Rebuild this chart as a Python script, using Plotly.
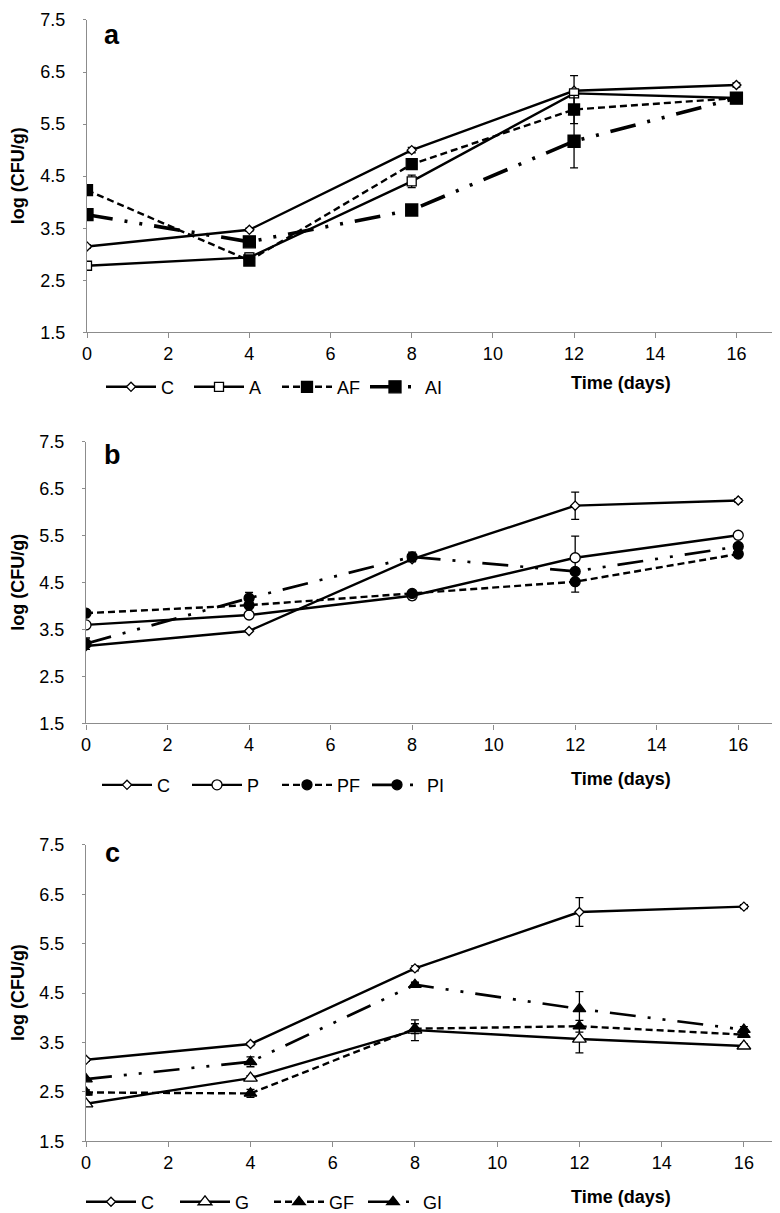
import plotly.graph_objects as go

# sampling days
days = [0, 4, 8, 12, 16]

# control (same in all three panels)
c_log = [3.15, 3.47, 5.00, 6.14, 6.25]
c_err = [0.03, 0.03, 0.05, 0.29, 0.04]

# panel a
a_log = [2.78, 2.94, 4.40, 6.09, 6.00]
a_err = [0.03, 0.08, 0.12, 0.05, 0.03]
af_log = [4.23, 2.88, 4.73, 5.78, 6.00]
af_err = [0.03, 0.04, 0.05, 0.27, 0.03]
ai_log = [3.76, 3.24, 3.85, 5.17, 6.00]
ai_err = [0.03, 0.04, 0.04, 0.51, 0.03]

# panel b
p_log = [3.60, 3.81, 4.22, 5.03, 5.51]
p_err = [0.03, 0.04, 0.08, 0.46, 0.04]
pf_log = [3.85, 4.02, 4.27, 4.52, 5.11]
pf_err = [0.03, 0.05, 0.05, 0.22, 0.03]
pi_log = [3.20, 4.17, 5.05, 4.74, 5.27]
pi_err = [0.12, 0.12, 0.10, 0.05, 0.04]

# panel c
g_log = [2.26, 2.78, 3.75, 3.57, 3.43]
g_err = [0.04, 0.05, 0.21, 0.28, 0.04]
gf_log = [2.49, 2.47, 3.78, 3.83, 3.66]
gf_err = [0.05, 0.08, 0.10, 0.12, 0.04]
gi_log = [2.76, 3.11, 4.67, 4.18, 3.76]
gi_err = [0.03, 0.10, 0.05, 0.35, 0.06]

y_ticks = [1.5, 2.5, 3.5, 4.5, 5.5, 6.5, 7.5]
x_ticks = [0, 2, 4, 6, 8, 10, 12, 14, 16]

FONT = "Arial, Liberation Sans, sans-serif"
W, H = 780, 1213
SHORT = "7px,4px"
LONG_DD = "26px,12px,3px,12px,3px,12px"

fig = go.Figure()


def add_series(panel, name, y, err, dash, width, symbol, size, filled):
    sfx = "" if panel == 1 else str(panel)
    fig.add_trace(go.Scatter(
        x=days, y=y, name=name, mode="lines+markers",
        xaxis="x" + sfx, yaxis="y" + sfx, legend="legend" + sfx,
        line=dict(color="black", width=width, dash=dash),
        marker=dict(symbol=symbol, size=size,
                    color="black" if filled else "white",
                    line=dict(color="black", width=1.3)),
        error_y=dict(type="data", array=err, color="black", thickness=1.3, width=4),
    ))


# a
add_series(1, "C", c_log, c_err, "solid", 2.4, "diamond", 7, False)
add_series(1, "A", a_log, a_err, "solid", 2.4, "square", 9, False)
add_series(1, "AF", af_log, af_err, SHORT, 2.4, "square", 11, True)
add_series(1, "AI", ai_log, ai_err, LONG_DD, 3.6, "square", 12, True)
# b
add_series(2, "C", c_log, c_err, "solid", 2.4, "diamond", 7, False)
add_series(2, "P", p_log, p_err, "solid", 2.4, "circle", 10, False)
add_series(2, "PF", pf_log, pf_err, SHORT, 2.4, "circle", 10, True)
add_series(2, "PI", pi_log, pi_err, LONG_DD, 2.7, "circle", 10, True)
# c
add_series(3, "C", c_log, c_err, "solid", 2.4, "diamond", 7, False)
add_series(3, "G", g_log, g_err, "solid", 2.4, "triangle-up", 12, False)
add_series(3, "GF", gf_log, gf_err, SHORT, 2.4, "triangle-up", 11, True)
add_series(3, "GI", gi_log, gi_err, LONG_DD, 2.7, "triangle-up", 11, True)

# panel geometry in pixels:
# x0, x1, ytop, ybottom, legend y, legend x, legend entry width, letter, letter y, time-label y
panels = [
    (79, 769, 12, 326, 381, 93, 23, "a", 27, 377),
    (78, 771, 436, 719, 781, 89, 25, "b", 449, 775),
    (78, 777, 841, 1139, 1200, 73, 29, "c", 849, 1195),
]

layout = dict(
    width=W, height=H, margin=dict(l=0, r=0, t=0, b=0),
    paper_bgcolor="white", plot_bgcolor="white",
    font=dict(family=FONT, size=18, color="black"),
    showlegend=True,
)
annotations = []
for i, (x0, x1, yt, yb, ly, lx, ew, letter, lty, tty) in enumerate(panels, start=1):
    sfx = "" if i == 1 else str(i)
    layout["xaxis" + sfx] = dict(
        domain=[x0 / W, x1 / W], range=[0, 17], anchor="y" + sfx,
        tickvals=x_ticks, ticks="outside", ticklen=5, tickcolor="#8c8c8c",
        showline=True, linecolor="#8c8c8c", linewidth=1.2, showgrid=False,
        zeroline=False, ticklabelstandoff=0, automargin=False,
        tickfont=dict(size=18),
    )
    layout["yaxis" + sfx] = dict(
        domain=[1 - yb / H, 1 - yt / H], range=[1.5, 7.5], anchor="x" + sfx,
        tickvals=y_ticks, tickformat=".1f", ticks="outside", ticklen=3,
        tickcolor="#8c8c8c", showline=True, linecolor="#8c8c8c", linewidth=1.2,
        showgrid=False, zeroline=False, ticklabelstandoff=14, automargin=False,
        tickfont=dict(size=18),
    )
    layout["legend" + sfx] = dict(
        orientation="h", x=lx / W, y=1 - ly / H, xanchor="left", yanchor="middle",
        itemwidth=50, entrywidth=ew, font=dict(size=18), bgcolor="rgba(0,0,0,0)",
        tracegroupgap=0,
    )
    annotations.append(dict(
        text="<b>log (CFU/g)</b>", x=10 / W, y=1 - (yt + yb) / 2 / H,
        xref="paper", yref="paper", xanchor="center", yanchor="middle",
        textangle=-90, showarrow=False, font=dict(size=18),
    ))
    annotations.append(dict(
        text="<b>%s</b>" % letter, x=104 / W, y=1 - lty / H,
        xref="paper", yref="paper", xanchor="center", yanchor="middle",
        showarrow=False, font=dict(size=27),
    ))
    annotations.append(dict(
        text="<b>Time (days)</b>", x=613 / W, y=1 - tty / H,
        xref="paper", yref="paper", xanchor="center", yanchor="middle",
        showarrow=False, font=dict(size=18),
    ))

layout["annotations"] = annotations
fig.update_layout(**layout)

fig.write_html("out.html")
